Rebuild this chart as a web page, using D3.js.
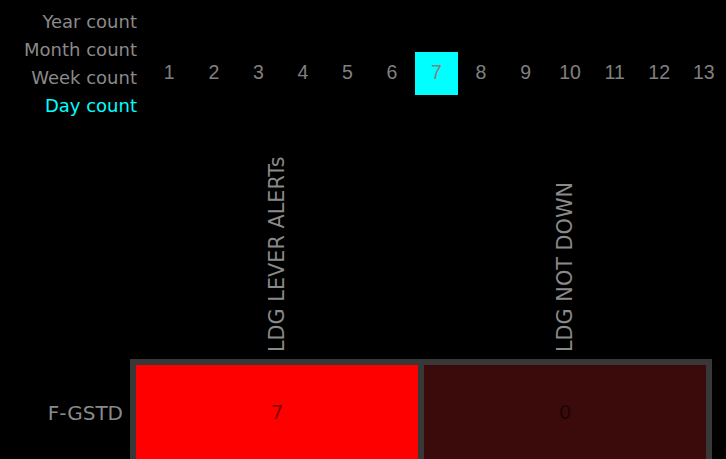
<!DOCTYPE html>
<html>
<head>
<meta charset="utf-8">
<script src="https://cdn.jsdelivr.net/npm/d3@7"></script>
<style>
  html, body { margin: 0; padding: 0; background: #000; overflow: hidden; }
  svg { display: block; }
</style>
</head>
<body>
<svg id="chart" width="726" height="459"></svg>
<script>
// ---- data ----
const periodLabels = ["Year count", "Month count", "Week count", "Day count"];
const activePeriod = "Day count";
const dayTicks = [1, 2, 3, 4, 5, 6, 7, 8, 9, 10, 11, 12, 13];
const selectedDay = 7;
const columns = ["LDG LEVER ALERTs", "LDG NOT DOWN"];
const rows = ["F-GSTD"];
const values = [[7, 0]];

// ---- drawing ----
const svg = d3.select("#chart");
const W = 726, H = 459;

svg.append("rect").attr("width", W).attr("height", H).attr("fill", "#000");

// period labels
const pY = d3.scalePoint().domain(periodLabels).range([28, 112]);
svg.append("g").selectAll("text").data(periodLabels).join("text")
  .attr("x", 137)
  .attr("y", d => pY(d))
  .attr("text-anchor", "end")
  .attr("font-family", "DejaVu Sans, Verdana, sans-serif")
  .attr("font-size", 18)
  .attr("fill", d => d === activePeriod ? "#00ffff" : "#8a8a8a")
  .text(d => d);

// day selector
const dx = d3.scaleBand().domain(dayTicks).range([147, 726]).paddingInner(0.035).paddingOuter(0.0175);
const dayG = svg.append("g");
dayG.selectAll("rect").data(dayTicks.filter(d => d === selectedDay)).join("rect")
  .attr("x", d => dx(d))
  .attr("y", 52)
  .attr("width", dx.bandwidth())
  .attr("height", 43)
  .attr("fill", "#00ffff");
dayG.selectAll("text").data(dayTicks).join("text")
  .attr("x", d => dx(d) + dx.bandwidth() / 2)
  .attr("y", 79)
  .attr("text-anchor", "middle")
  .attr("font-family", "Liberation Sans, Arial, sans-serif")
  .attr("font-size", 19.5)
  .attr("fill", "#808080")
  .text(d => d);

// heatmap
const x = d3.scaleBand().domain(columns).range([133, 709]);
const y = d3.scaleBand().domain(rows).range([362, 462]);
const color = d3.scaleLinear().domain([0, 7]).range(["#3b0b0b", "#ff0000"]);

// column labels
svg.append("g").selectAll("text").data(columns).join("text")
  .attr("transform", d => `translate(${x(d) + x.bandwidth() / 2 + 7},352) rotate(-90)`)
  .attr("font-family", "DejaVu Sans, Verdana, sans-serif")
  .attr("font-size", 20.8)
  .attr("fill", "#8a8a8a")
  .text(d => d);

// row labels
svg.append("g").selectAll("text").data(rows).join("text")
  .attr("x", 123)
  .attr("y", d => y(d) + y.bandwidth() / 2 + 8)
  .attr("text-anchor", "end")
  .attr("font-family", "DejaVu Sans, Verdana, sans-serif")
  .attr("font-size", 20)
  .attr("fill", "#8a8a8a")
  .text(d => d);

// cells
const cells = [];
rows.forEach((r, i) => columns.forEach((c, j) => cells.push({ r, c, v: values[i][j] })));

const cg = svg.append("g");
cg.selectAll("rect").data(cells).join("rect")
  .attr("x", d => x(d.c))
  .attr("y", d => y(d.r))
  .attr("width", x.bandwidth())
  .attr("height", y.bandwidth())
  .attr("fill", d => color(d.v))
  .attr("stroke", "#383838")
  .attr("stroke-width", 6);

cg.selectAll("text").data(cells).join("text")
  .attr("x", d => x(d.c) + x.bandwidth() / 2)
  .attr("y", d => y(d.r) + y.bandwidth() / 2 + 7)
  .attr("text-anchor", "middle")
  .attr("font-family", "DejaVu Sans, Verdana, sans-serif")
  .attr("font-size", 20)
  .attr("fill", "#000")
  .attr("fill-opacity", 0.5)
  .text(d => d.v);
</script>
</body>
</html>
